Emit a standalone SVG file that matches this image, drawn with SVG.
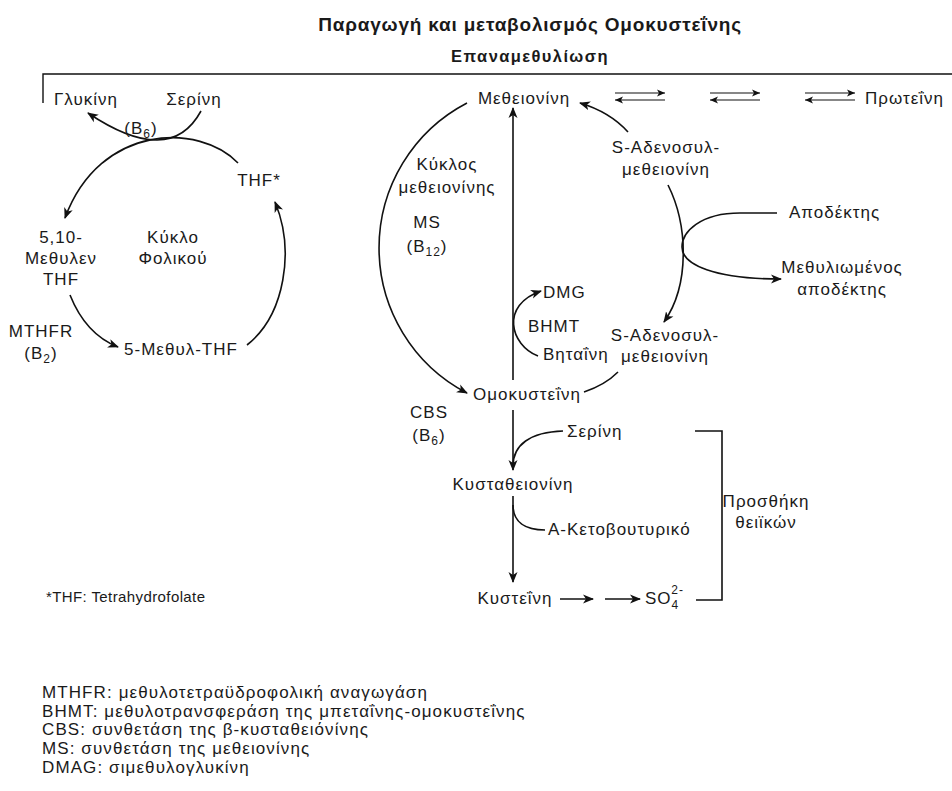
<svg xmlns="http://www.w3.org/2000/svg" width="952" height="791" viewBox="0 0 952 791">
<style>
text{font-family:"Liberation Sans",Arial,sans-serif;font-size:17px;letter-spacing:1px;fill:#1a1a1a}
.c{text-anchor:middle}
.t{font-weight:bold;font-size:19px;letter-spacing:0.8px}
.st{font-weight:bold;font-size:16.5px;letter-spacing:1.4px}
.small{font-size:15px;letter-spacing:0.4px}
.leg{font-size:17px;letter-spacing:1.1px}
.ln{fill:none;stroke:#111;stroke-width:1.6}
.ha{fill:none;stroke:#111;stroke-width:1.2}
</style>
<defs>
<marker id="ah" markerUnits="userSpaceOnUse" markerWidth="12" markerHeight="10" refX="10" refY="5" orient="auto">
<path d="M0,0.5 L11,5 L0,9.5 L3,5 z" fill="#111"/>
</marker>
<marker id="sh" markerUnits="userSpaceOnUse" markerWidth="9" markerHeight="8" refX="8" refY="4" orient="auto">
<path d="M0,0.5 L8,4 L0,7.5 L2,4 z" fill="#111"/>
</marker>
</defs>
<rect width="952" height="791" fill="#fff"/>
<text class="t c" x="530" y="31">Παραγωγή και μεταβολισμός Ομοκυστεΐνης</text>
<text class="st c" x="530" y="62">Επαναμεθυλίωση</text>
<g id="connectors">
<path class="ln" d="M43,103 L43,74 L952,74" style="stroke-width:1.4"/>
<path class="ln" d="M201,111 Q170,168 88,113" marker-end="url(#ah)"/>
<path class="ln" d="M238,163 C200,123 100,123 65,218" marker-end="url(#ah)"/>
<path class="ln" d="M70,295 C80,320 95,338 118,347" marker-end="url(#ah)"/>
<path class="ln" d="M247,345 C285,315 295,250 275,202" marker-end="url(#ah)"/>
<path class="ln" d="M467,103 A163.5,163.5 0 0 0 467,393" marker-end="url(#ah)"/>
<path class="ln" d="M513,380 L513,108" marker-end="url(#ah)"/>
<path class="ln" d="M628,132 Q610,112 580,103" marker-end="url(#ah)"/>
<path class="ln" d="M668,185 C688,225 690,285 664,322" marker-end="url(#ah)"/>
<path class="ln" d="M777,213 L740,213 C700,213 682,232 682,247 C682,265 715,279 781,279" marker-end="url(#ah)"/>
<path class="ln" d="M618,372 Q605,385 584,392"/>
<path class="ln" d="M538,356 C510,345 500,305 541,291" marker-end="url(#ah)"/>
<path class="ln" d="M513,410 L513,470" marker-end="url(#ah)"/>
<path class="ln" d="M563,431 C530,432 513,445 513,466"/>
<path class="ln" d="M513,496 L513,582" marker-end="url(#ah)"/>
<path class="ln" d="M513,505 C513,522 525,530 545,530"/>
<path class="ln" d="M560,599 L593,599" marker-end="url(#ah)"/>
<path class="ln" d="M605,599 L640,599" marker-end="url(#ah)"/>
<path class="ln" d="M695,431 L722,431 L722,600 L696,600"/>
<path class="ha" d="M615,93 L665,93" marker-end="url(#sh)"/>
<path class="ha" d="M665,100 L615,100" marker-end="url(#sh)"/>
<path class="ha" d="M710,93 L760,93" marker-end="url(#sh)"/>
<path class="ha" d="M760,100 L710,100" marker-end="url(#sh)"/>
<path class="ha" d="M805,93 L855,93" marker-end="url(#sh)"/>
<path class="ha" d="M855,100 L805,100" marker-end="url(#sh)"/>
</g>
<g id="glycine"><text class="c" x="86" y="105">Γλυκίνη</text></g>
<g id="serine1"><text class="c" x="194" y="105">Σερίνη</text></g>
<g id="b6a"><text class="c" x="141" y="134">(B<tspan font-size="12" dy="4">6</tspan><tspan dy="-4">)</tspan></text></g>
<g id="thf"><text class="c" x="259" y="186">THF*</text></g>
<g id="methylene-thf"><text class="c" x="61" y="243">5,10-</text><text class="c" x="61" y="264">Μεθυλεν</text><text class="c" x="61" y="285">THF</text></g>
<g id="folate-cycle"><text class="c" x="173" y="243">Κύκλο</text><text class="c" x="173" y="264">Φολικού</text></g>
<g id="mthfr"><text class="c" x="41" y="337">MTHFR</text><text class="c" x="41" y="359">(B<tspan font-size="12" dy="4">2</tspan><tspan dy="-4">)</tspan></text></g>
<g id="methyl-thf"><text class="c" x="181" y="355">5-Μεθυλ-THF</text></g>
<g id="methionine"><text class="c" x="524" y="104">Μεθειονίνη</text></g>
<g id="met-cycle"><text class="c" x="447" y="170">Κύκλος</text><text class="c" x="447" y="193">μεθειονίνης</text></g>
<g id="ms"><text class="c" x="427" y="228">MS</text><text class="c" x="427" y="252">(B<tspan font-size="12" dy="4">12</tspan><tspan dy="-4">)</tspan></text></g>
<g id="sam"><text class="c" x="666" y="153">S-Αδενοσυλ-</text><text class="c" x="666" y="175">μεθειονίνη</text></g>
<g id="acceptor"><text x="789" y="218">Αποδέκτης</text></g>
<g id="methyl-acceptor"><text class="c" x="842" y="273">Μεθυλιωμένος</text><text class="c" x="842" y="295">αποδέκτης</text></g>
<g id="dmg"><text x="543" y="298">DMG</text></g>
<g id="bhmt"><text x="528" y="332">BHMT</text></g>
<g id="betaine"><text x="543" y="360">Βηταΐνη</text></g>
<g id="sah"><text class="c" x="665" y="341">S-Αδενοσυλ-</text><text class="c" x="665" y="362">μεθειονίνη</text></g>
<g id="homocysteine"><text class="c" x="527" y="400">Ομοκυστεΐνη</text></g>
<g id="cbs"><text class="c" x="429" y="418">CBS</text><text class="c" x="429" y="441">(B<tspan font-size="12" dy="4">6</tspan><tspan dy="-4">)</tspan></text></g>
<g id="serine2"><text x="567" y="437">Σερίνη</text></g>
<g id="cystathionine"><text class="c" x="513" y="490">Κυσταθειονίνη</text></g>
<g id="ketobutyrate"><text x="548" y="535">Α-Κετοβουτυρικό</text></g>
<g id="cysteine"><text class="c" x="515" y="604">Κυστεΐνη</text></g>
<g id="sulfate"><text x="645" y="604">SO<tspan font-size="12" dy="5">4</tspan><tspan font-size="12" dx="-8" dy="-15">2-</tspan></text></g>
<g id="sulfate-addition"><text class="c" x="766" y="507">Προσθήκη</text><text class="c" x="766" y="528">θειϊκών</text></g>
<g id="protein"><text x="865" y="104">Πρωτεΐνη</text></g>
<g id="footnote"><text class="small" x="46" y="602">*THF: Tetrahydrofolate</text></g>
<g id="legend">
<text class="leg" x="42" y="698">MTHFR: μεθυλοτετραϋδροφολική αναγωγάση</text>
<text class="leg" x="42" y="717">BHMT: μεθυλοτρανσφεράση της μπεταΐνης-ομοκυστεΐνης</text>
<text class="leg" x="42" y="735">CBS: συνθετάση της β-κυσταθειόνίνης</text>
<text class="leg" x="42" y="754">MS: συνθετάση της μεθειονίνης</text>
<text class="leg" x="42" y="773">DMAG: σιμεθυλογλυκίνη</text>
</g>
</svg>
